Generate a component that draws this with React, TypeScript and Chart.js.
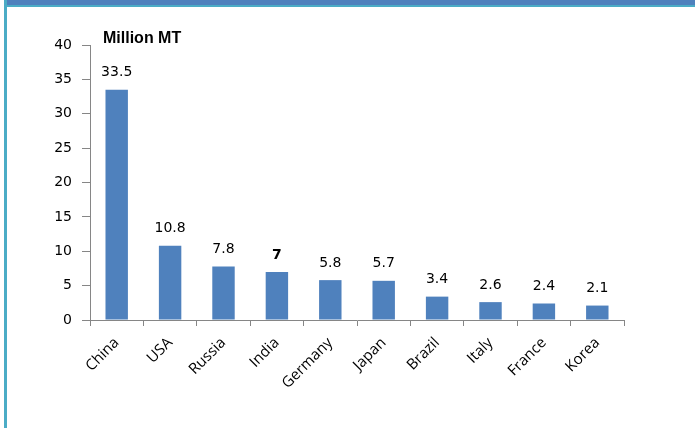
import React, { useEffect, useRef } from "react";
import { Chart, registerables } from "chart.js";

Chart.register(...registerables);

const categories = ["China", "USA", "Russia", "India", "Germany", "Japan", "Brazil", "Italy", "France", "Korea"];
const values = [33.5, 10.8, 7.8, 7, 5.8, 5.7, 3.4, 2.6, 2.4, 2.1];
const valueLabels = ["33.5", "10.8", "7.8", "7", "5.8", "5.7", "3.4", "2.6", "2.4", "2.1"];
const boldLabelIndex = 3;
const unitTitle = "Million MT";
const yMin = 0;
const yMax = 40;
const yStep = 5;

const CHART_LEFT = 90;
const CHART_TOP = 45;
const CHART_RIGHT_PAD = 71;
const CHART_BOTTOM = 320;
const W = 695;
const H = 428;

export default function App() {
  const ref = useRef<HTMLCanvasElement | null>(null);

  useEffect(() => {
    if (!ref.current) return;
    const labelPlugin = {
      id: "valueLabels",
      afterDatasetsDraw(chart: any) {
        const ctx = chart.ctx;
        const meta = chart.getDatasetMeta(0);
        ctx.save();
        ctx.fillStyle = "#000";
        ctx.textAlign = "center";
        ctx.textBaseline = "bottom";
        meta.data.forEach((bar: any, i: number) => {
          ctx.font = (i === boldLabelIndex ? "bold " : "") + "14px 'DejaVu Sans', sans-serif";
          ctx.fillText(valueLabels[i], bar.x, bar.y - 10);
        });
        ctx.font = "bold 16px 'Liberation Sans', Arial, sans-serif";
        ctx.textAlign = "left";
        ctx.textBaseline = "middle";
        ctx.fillText(unitTitle, chart.chartArea.left + 13, chart.chartArea.top - 6);
        ctx.restore();
      },
    };

    const chart = new Chart(ref.current, {
      type: "bar",
      data: {
        labels: categories,
        datasets: [
          {
            data: values,
            backgroundColor: "#4F81BD",
            borderWidth: 0,
            barPercentage: 0.42,
            categoryPercentage: 1,
          },
        ],
      },
      options: {
        responsive: false,
        animation: false,
        layout: { padding: { left: 0, top: CHART_TOP, right: CHART_RIGHT_PAD, bottom: 0 } },
        plugins: { legend: { display: false }, tooltip: { enabled: false }, title: { display: false } },
        scales: {
          x: {
            grid: {
              display: true,
              drawOnChartArea: false,
              drawTicks: true,
              tickLength: 6,
              color: "#868686",
              offset: true,
            },
            border: { display: true, color: "#868686", width: 1 },
            ticks: {
              minRotation: 45,
              maxRotation: 45,
              color: "#000",
              font: { family: "'Open Sans', 'Liberation Sans', sans-serif", size: 15 },
              padding: 8,
            },
            afterFit(scale: any) {
              scale.height = H - CHART_BOTTOM;
            },
          },
          y: {
            min: yMin,
            max: yMax,
            grid: {
              display: true,
              drawOnChartArea: false,
              drawTicks: true,
              tickLength: 8,
              color: "#868686",
            },
            border: { display: true, color: "#868686", width: 1 },
            ticks: {
              stepSize: yStep,
              color: "#000",
              font: { family: "'DejaVu Sans', sans-serif", size: 14 },
              padding: 10,
            },
            afterFit(scale: any) {
              scale.width = CHART_LEFT;
            },
          },
        },
      },
      plugins: [labelPlugin],
    });
    return () => chart.destroy();
  }, []);

  return (
    <div style={{ position: "fixed", left: 0, top: 0, width: W, height: H, background: "#fff" }}>
      <canvas ref={ref} width={W} height={H} style={{ position: "absolute", left: 0, top: 0 }} />
      <div style={{ position: "absolute", left: 4, top: 0, width: 3, height: H, background: "#4BACC6" }} />
      <div style={{ position: "absolute", left: 7, top: 0, width: W - 7, height: 5, background: "#4F81BD" }} />
      <div style={{ position: "absolute", left: 7, top: 5, width: W - 7, height: 2, background: "#4BACC6" }} />
    </div>
  );
}
